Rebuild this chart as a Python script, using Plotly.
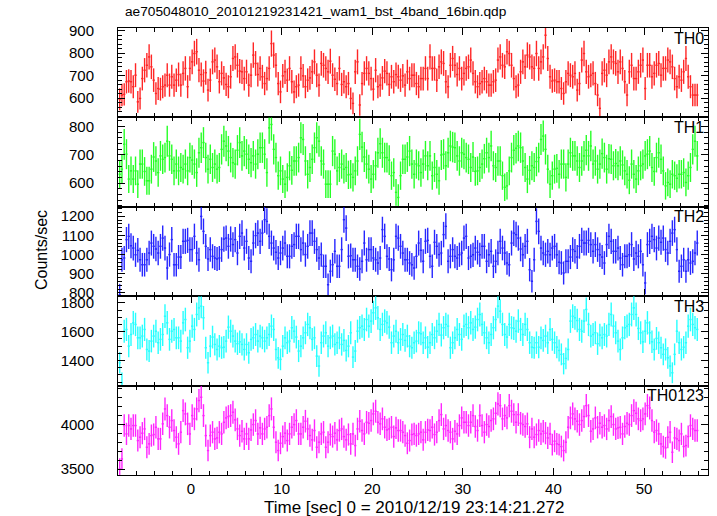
import numpy as np
import plotly.graph_objects as go
from plotly.subplots import make_subplots

TITLE = "ae705048010_20101219231421_wam1_bst_4band_16bin.qdp"
X_LABEL = "Time [sec] 0 = 2010/12/19 23:14:21.272"
Y_LABEL = "Counts/sec"
BAND_NAMES = ["TH0", "TH1", "TH2", "TH3", "TH0123"]
BAND_COLORS = ["#ff0000", "#00ff00", "#0000ff", "#00ffff", "#ff00ff"]
BIN_SEC = 0.25
T_START = -8.0
X_TICKS = [0, 10, 20, 30, 40, 50]

th0 = [595,614,617,673,676,673,651,702,584,599, 687,724,746,783,739,680,621,643,640,651,
       658,702,658,695,658,680,705,658,710,732, 651,732,761,798,806,724,705,676,713,636,
       680,761,769,739,673,710,690,661,651,695, 776,783,746,720,717,687,717,658,702,791,
       754,705,732,695,665,687,732,842,791,746, 665,628,699,717,680,732,673,628,651,658,
       732,699,651,680,690,717,761,702,658,754, 746,732,717,764,702,684,665,732,661,673,
       651,665,599,577,717,761,570,665,710,732, 710,687,640,724,651,658,690,720,710,661,
       695,673,705,695,680,699,658,717,687,702,
       702,665,651,687,687,732,687,783,732,732, 680,739,761,754,673,651,746,776,746,705,
       732,687,710,732,739,769,710,673,651,665, 673,687,673,658,658,673,680,769,783,746,
       739,806,798,746,687,651,658,717,761,739, 791,783,739,732,798,732,761,783,879,776,
       695,676,680,673,673,643,621,673,710,702, 695,710,636,665,769,798,717,695,702,710,
       665,614,555,710,724,702,761,783,761,754, 717,761,732,673,614,717,746,687,687,717,
       746,769,643,746,746,695,710,746,754,702, 732,732,769,761,739,687,651,695,680,717,
       776,695,651,614,614,614]

th1 = [631,649,737,702,614,643,614,643,596,667, 667,641,608,608,649,692,678,637,696,684,
       690,748,696,684,643,667,643,655,649,667, 643,690,681,667,637,707,725,743,690,649,
       684,655,667,649,655,719,748,731,713,690, 672,667,716,743,696,713,702,684,672,696,
       667,702,725,725,702,637,795,807,719,690, 626,643,614,596,620,661,645,678,678,690,
       760,754,678,631,655,684,725,760,748,678, 667,596,596,596,713,702,643,655,667,649,
       655,629,631,620,643,678,772,727,692,667, 649,614,631,661,707,739,707,690,690,681,
       626,637,567,549,626,684,684,692,713,667,
       631,667,661,637,667,696,661,696,626,655, 631,608,699,702,661,707,731,727,725,696,
       678,707,702,690,684,655,692,641,643,655, 667,686,707,690,731,661,655,678,678,626,
       585,590,643,690,716,723,731,725,678,655, 614,645,661,655,676,690,754,766,719,649,
       596,626,649,652,631,667,667,620,667,707, 696,696,678,655,678,696,716,696,731,667,
       678,649,667,704,690,649,686,684,661,669, 661,678,664,643,631,610,667,631,614,643,
       661,667,696,702,713,655,641,690,707,684, 643,590,602,596,631,626,617,631,631,637,
       602,626,655,719,748,696]

th2 = [791,973,982,1078,1095,1046,1034,999,1022,973, 947,947,973,1008,1060,1043,1029,1008,1043,1086,
       1034,930,1000,1078,947,947,987,987,1069,1069, 1074,1026,1026,1095,1008,973,1199,1121,1043,977,
       1026,991,982,977,982,1026,1081,1086,1043,1081, 1052,1078,1008,1095,1112,1034,1069,982,965,1060,
       1099,1112,1069,1112,1182,1173,1095,1060,1034,1012, 982,1008,1034,1060,991,991,1043,1052,1095,1095,
       1026,1060,1000,1043,1112,1112,1069,1026,982,1000, 939,939,843,913,947,1017,939,939,1026,1182,
       1138,991,994,973,973,939,925,965,1060,973, 1026,1026,982,973,956,982,1130,1095,991,977,
       921,973,1095,1086,1043,1008,973,973,956,947,
       930,991,1060,1022,965,1069,1074,991,939,1064, 1043,1000,1008,1104,1147,965,991,1026,991,982,
       999,1008,1086,1095,982,991,999,1034,1012,999, 1043,1043,965,999,1017,939,965,1008,1069,1034,
       1008,956,947,1060,1112,1104,1086,1029,999,1043, 1069,921,861,973,1173,1121,1034,1008,999,1017,
       999,1034,1043,999,960,956,904,965,965,987, 1026,1017,987,1043,1074,1060,1060,1074,1052,1017,
       1052,1026,999,987,956,1052,1095,1069,1017,1017, 1034,982,947,991,991,999,1052,977,1008,991,
       1017,947,852,1052,1069,1095,1078,1034,1086,1064, 1086,1026,1008,1069,1112,1130,1026,913,939,973,
       913,973,956,965,1008,1060]

th3 = [1384,1245,1603,1615,1499,1580,1661,1650,1557,1557, 1569,1615,1476,1465,1534,1569,1603,1523,1546,1580,
       1707,1661,1546,1603,1615,1557,1557,1534,1661,1684, 1488,1534,1638,1615,1719,1765,1777,1696,1488,1384,
       1499,1562,1511,1476,1499,1488,1492,1534,1631,1603, 1569,1534,1516,1529,1511,1476,1511,1453,1546,1557,
       1580,1534,1569,1557,1534,1557,1580,1638,1615,1476, 1418,1407,1499,1557,1523,1534,1627,1603,1562,1465,
       1499,1557,1592,1650,1627,1546,1557,1430,1361,1523, 1569,1592,1499,1557,1569,1511,1523,1557,1511,1539,
       1469,1499,1592,1423,1465,1603,1627,1638,1615,1684, 1638,1673,1731,1765,1696,1615,1650,1673,1661,1631,
       1523,1569,1603,1523,1546,1580,1539,1569,1499,1488, 1523,1534,1592,1585,1523,1557,1492,1523,1580,1557,
       1603,1650,1576,1627,1650,1638,1488,1523,1557,1615, 1580,1546,1638,1650,1627,1661,1615,1631,1684,1719,
       1650,1592,1557,1523,1580,1627,1684,1777,1742,1650, 1580,1562,1650,1627,1622,1603,1673,1615,1580,1650,
       1615,1523,1492,1488,1523,1492,1557,1539,1569,1523, 1615,1546,1523,1492,1469,1442,1377,1414,1476,1673,
       1707,1696,1677,1615,1603,1673,1754,1650,1569,1580, 1592,1516,1576,1557,1580,1569,1650,1719,1638,1592,
       1534,1476,1557,1627,1638,1650,1719,1765,1719,1622, 1592,1529,1603,1661,1592,1529,1476,1553,1523,1488,
       1442,1476,1418,1361,1314,1442,1603,1523,1476,1492, 1523,1638,1684,1650,1627,1615]

th0123 = [3502,3614,3989,3895,3989,3951,3989,3989,3820,3858, 3903,3951,3745,3783,3876,3888,3970,3839,3839,4008,
          4176,4101,3970,4045,3933,3858,3783,3914,4157,4120, 4008,3895,4101,4064,4176,4270,4307,4101,3876,3708,
          3876,3914,3839,3850,3914,3895,4026,4075,4090,4101, 4139,4053,3951,3876,3925,3839,3895,3839,3940,4000,
          4045,3895,3963,3895,3951,3970,4101,4176,3970,3802, 3708,3790,3865,3903,3820,3895,3970,4000,4045,3895,
          3895,3970,4038,3951,3876,3828,3933,3745,3802,3895, 3914,3745,3802,3888,3865,3903,3828,3933,3951,3865,
          3828,3888,3783,3895,3764,3951,4038,3933,3895,4026, 4015,4045,4120,4150,4026,4008,4064,3970,3940,3951,
          3970,3865,3963,3933,3933,3914,3876,3790,3820,3888, 3895,3876,3895,3914,3828,3914,3940,3933,3970,3888,
          3914,4045,4112,3951,3989,3933,3914,3839,3925,3895, 3989,4075,4026,4026,3989,4026,4101,3978,3933,4101,
          3989,3914,4000,3978,4045,4064,4127,4232,4213,4064, 4101,4075,4213,4150,4112,4026,4112,4015,4000,3978,
          4008,3858,3951,3858,3888,3933,3895,3925,3903,3850, 3895,3775,3813,3783,3775,3753,3708,3802,3970,4075,
          4120,4064,4038,4000,4045,4090,4213,4101,3925,3951, 4075,3970,4015,3970,3989,3951,4045,4090,4000,3951,
          3963,3970,3895,3978,4015,4000,4101,4157,4127,4064, 4045,4064,4120,4213,4187,4045,3914,3933,3895,3783,
          3753,3738,3858,3914,3689,3850,3839,3820,3895,3753, 3764,3865,3989,3951,3933,3933]

SERIES = [th0, th1, th2, th3, th0123]
Y_RANGES = [[515, 911], [516, 832], [783, 1249], [1225, 1846], [3433, 4438]]
Y_DTICK = [100, 100, 100, 200, 500]
Y_MINOR = [20, 20, 20, 50, 100]

FONT = "Liberation Sans, Arial, Helvetica, sans-serif"
W, H = 717, 516
ML, MR, MT, MB = 118, 9, 28, 41
PW, PH = W - ML - MR, H - MT - MB

fig = make_subplots(rows=5, cols=1, shared_xaxes=True, vertical_spacing=0)

for k, (vals, col) in enumerate(zip(SERIES, BAND_COLORS)):
    y = np.array(vals, dtype=float)
    t = T_START + BIN_SEC * (np.arange(len(y)) + 0.5)
    err = np.sqrt(y * BIN_SEC) / BIN_SEC
    fig.add_trace(go.Scatter(
        x=t, y=y, mode="markers",
        marker=dict(size=1, color=col),
        error_y=dict(type="data", array=err, color=col, thickness=1.4, width=0),
        error_x=dict(type="constant", value=BIN_SEC / 2, color=col, thickness=1.4, width=0),
        opacity=0.85,
        showlegend=False, hoverinfo="skip"), row=k + 1, col=1)

    fig.update_yaxes(row=k + 1, col=1, range=Y_RANGES[k], tick0=0, dtick=Y_DTICK[k],
                     ticks="inside", ticklen=7, tickwidth=1, tickcolor="black",
                     minor=dict(dtick=Y_MINOR[k], ticks="inside", ticklen=4, tickcolor="black"),
                     showline=True, linecolor="black", linewidth=1, mirror="ticks",
                     showgrid=False, zeroline=False, automargin=False,
                     tickfont=dict(size=15, family=FONT, color="black"),
                     ticklabelstandoff=20)
    fig.update_xaxes(row=k + 1, col=1, range=[-8.06, 57.06], tickvals=X_TICKS,
                     ticks="inside", ticklen=7, tickwidth=1, tickcolor="black",
                     minor=dict(dtick=2, tick0=0, ticks="inside", ticklen=4, tickcolor="black"),
                     showline=True, linecolor="black", linewidth=1, mirror="ticks",
                     showgrid=False, zeroline=False, automargin=False,
                     tickfont=dict(size=15, family=FONT, color="black"),
                     ticklabelstandoff=0)


def px_x(px):
    return (px - ML) / PW


def px_y(py):
    return (H - MB - py) / PH


annotations = [
    dict(text=TITLE, x=px_x(123), y=px_y(12), xanchor="left", yanchor="middle",
         font=dict(size=13.7, family=FONT, color="black")),
    dict(text=X_LABEL, x=px_x(414), y=px_y(507), xanchor="center", yanchor="middle",
         font=dict(size=17, family=FONT, color="black")),
    dict(text=Y_LABEL, x=px_x(42), y=px_y(250), xanchor="center", yanchor="middle",
         textangle=-90, font=dict(size=16, family=FONT, color="black")),
]
for k, name in enumerate(BAND_NAMES):
    annotations.append(dict(text=name, x=px_x(706), y=px_y(MT + PH / 5 * k + 10),
                            xanchor="right", yanchor="middle",
                            font=dict(size=16, family=FONT, color="black")))
for a in annotations:
    a.update(xref="paper", yref="paper", showarrow=False)

fig.update_layout(width=W, height=H, margin=dict(l=ML, r=MR, t=MT, b=MB, autoexpand=False),
                  plot_bgcolor="white", paper_bgcolor="white",
                  annotations=annotations, showlegend=False)

fig.write_html("out.html", config={"displayModeBar": False},
               post_script="document.body.style.margin='0';document.body.style.overflow='hidden';")
